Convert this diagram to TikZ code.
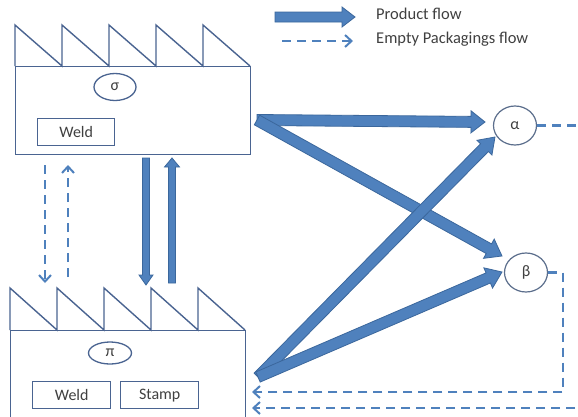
\documentclass[tikz,border=0pt]{standalone}
\usepackage{fontspec}
\setmainfont{Carlito}
\usetikzlibrary{arrows.meta,calc,shapes.geometric}
\definecolor{arrfill}{HTML}{4F81BD}
\definecolor{arrdraw}{HTML}{3B679C}
\definecolor{fac}{HTML}{4A6491}
\definecolor{txt}{HTML}{404040}
\definecolor{circ}{HTML}{5B6E8C}
\newcommand\fatarrow[5]{%
\path let \p1=(#1),\p2=(#2),\n1={atan2(\y2-\y1,\x2-\x1)},\n2={veclen(\x2-\x1,\y2-\y1)} in \pgfextra{\xdef\fAng{\n1}\xdef\fLen{\n2}\xdef\fX{\x1}\xdef\fY{\y1}};
\begin{scope}[shift={(\fX,\fY)},rotate=\fAng]
\filldraw[fill=arrfill,draw=arrdraw,line width=0.8pt,line join=miter] (0,-#3) -- ({\fLen-#5},-#3) -- ({\fLen-#5},-#4) -- (\fLen,0) -- ({\fLen-#5},#4) -- ({\fLen-#5},#3) -- (0,#3) -- cycle;
\end{scope}}
\begin{document}
\begin{tikzpicture}[x=1pt,y=-1pt,
  factory/.style={draw=fac,line width=1.4pt,line join=miter},
  proc/.style={draw=fac,line width=1.4pt,minimum width=78pt,minimum height=27pt,inner sep=0pt,text=txt,font=\fontsize{16}{18}\selectfont},
  tag/.style={ellipse,draw=fac,line width=1.3pt,inner sep=0pt,text=txt,font=\fontsize{16}{18}\selectfont},
  client/.style={ellipse,draw=circ,line width=1.2pt,minimum width=43pt,minimum height=39pt,inner sep=0pt,text=txt,font=\fontsize{16}{18}\selectfont},
  emptyflow/.style={draw=arrfill,line width=2.2pt,dash pattern=on 9pt off 6pt},
  emptyhead/.style={-{Straight Barb[length=6.5pt,width=12pt,line width=2pt]}},
  legend/.style={anchor=west,text=txt,font=\fontsize{16.5}{18}\selectfont,inner sep=0pt}]
\clip (0,0) rectangle (578,416);
\fill[white] (0,0) rectangle (578,416);

% top factory sigma
\node[factory,anchor=north west,minimum width=235pt,minimum height=88pt,inner sep=0pt] (F1) at (15,66) {};
\draw[factory] (15,66) -- (15,25) -- (62,66) -- (62,25) -- (109,66) -- (109,25) -- (156,66) -- (156,25) -- (203,66) -- (203,25) -- (250,66);
\node[tag,minimum width=42pt,minimum height=27pt] (sig) at (115,87) {σ};
\node[proc,anchor=north west,minimum width=77pt] (w1) at (37,118) {Weld};

% bottom factory pi
\node[factory,anchor=north west,minimum width=235pt,minimum height=100pt,inner sep=0pt] (F2) at (10,330) {};
\draw[factory] (10,330) -- (10,288) -- (57,330) -- (57,288) -- (104,330) -- (104,288) -- (151,330) -- (151,288) -- (198,330) -- (198,288) -- (245,330);
\node[tag,minimum width=43pt,minimum height=22pt] (pi) at (110,353) {π};
\node[proc,anchor=north west] (w2) at (32,381) {Weld};
\node[proc,anchor=north west] (st) at (120,381) {Stamp};

% clients
\node[client] (al) at (515,125.5) {α};
\node[client] (be) at (526,272.5) {β};

% legend
\coordinate (lg1a) at (275,17);
\coordinate (lg1b) at (355,17);
\fatarrow{lg1a}{lg1b}{5}{10}{13}
\node[legend] (lt1) at (376,14) {Product flow};
\coordinate (lg2a) at (282,41);
\coordinate (lg2b) at (353,41);
\draw[emptyflow,emptyhead] (lg2a) -- (lg2b);
\node[legend] (lt2) at (376,39) {Empty Packagings flow};

% product flows
\coordinate (sOut) at (257,120);
\coordinate (pOut) at (258,377);
\coordinate (aIn1) at (485,122);
\coordinate (aIn2) at (495,137);
\coordinate (bIn1) at (502,256);
\coordinate (bIn2) at (502,272);
\fatarrow{sOut}{aIn1}{5.5}{11}{14}
\fatarrow{sOut}{bIn1}{5.5}{11}{15}
\fatarrow{pOut}{aIn2}{5.5}{10.5}{15}
\fatarrow{pOut}{bIn2}{5.5}{11}{15}

% vertical product flows
\coordinate (d1) at (146,158);
\coordinate (d2) at (146,285);
\coordinate (u1) at (172,283);
\coordinate (u2) at (172,158);
\fatarrow{d1}{d2}{3.5}{7}{10}
\fatarrow{u1}{u2}{3.5}{7.5}{9}

% vertical empty flows
\coordinate (e1) at (45,165);
\coordinate (e2) at (45,283);
\coordinate (e3) at (68,277);
\coordinate (e4) at (68,165);
\draw[emptyflow,emptyhead] (e1) -- (e2);
\draw[emptyflow,emptyhead] (e3) -- (e4);

% empty flows back from clients
\coordinate (aOut) at (590,125.5);
\draw[emptyflow] (al.east) -- (aOut);
\coordinate (bTurn) at (563,272.5);
\coordinate (bDown) at (563,392);
\coordinate (ret1) at (252,392);
\draw[emptyflow,emptyhead] (be.east) -- (bTurn) -- (bDown) -- (ret1);
\coordinate (rin) at (590,408);
\coordinate (ret2) at (252,408);
\draw[emptyflow,emptyhead] (rin) -- (ret2);
\end{tikzpicture}
\end{document}
